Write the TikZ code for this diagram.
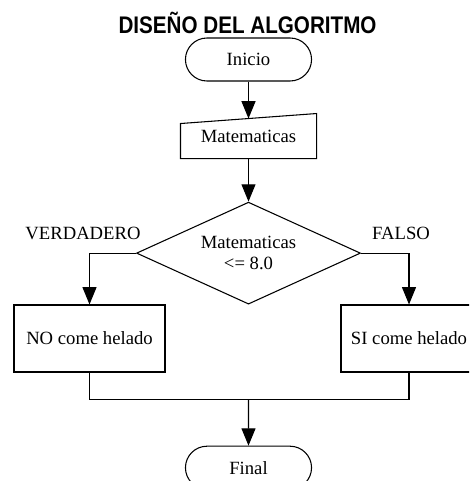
\documentclass[tikz,border=0pt]{standalone}
\usepackage{fontspec}
\setmainfont{Liberation Serif}
\newfontfamily\titlefont{Liberation Sans}
\usetikzlibrary{shapes,arrows.meta,positioning,calc}

\begin{document}
\begin{tikzpicture}[x=0.75pt, y=-0.75pt, >={Triangle[length=13pt,width=10.5pt]}, line width=0.8pt,
    term/.style={draw, rounded rectangle, minimum width=101.25pt, minimum height=32.25pt, font=\fontsize{14}{16}\selectfont},
    box/.style={draw, rectangle, minimum height=50.25pt, font=\fontsize{14}{16}\selectfont},
    cond/.style={draw, diamond, aspect=2.2, minimum width=168pt, minimum height=76.5pt, inner sep=0pt, align=center, font=\fontsize{14}{16}\selectfont},
    lbl/.style={font=\fontsize{14}{16}\selectfont}]
    \clip (0,0) rectangle (469,481);
    \node[font=\titlefont\bfseries\fontsize{18}{20}\selectfont] (T) at (247.5,22.5) {\scalebox{0.86}[1]{DISEÑO DEL ALGORITMO}};

    \node[term] (A) at (248.5,59.5) {Inicio};
    \node[minimum width=101.25pt, minimum height=33pt, below=24pt of A, font=\fontsize{14}{16}\selectfont] (B) {Matematicas};
    \draw (B.south west) -- (B.south east) -- (B.north east) -- ([yshift=-7.5pt]B.north west) -- cycle;
    \node[cond, below=32.25pt of B] (C) {Matematicas\\\textless= 8.0};

    \node[box, minimum width=113.25pt] (D) at (89.5,338.5) {NO come helado};
    \node[box, minimum width=102pt] (E) at (409,338.5) {SI come helado};
    \node[term, below=105.75pt of C] (F) {Final};
    \coordinate (J) at ([yshift=-20.25pt]D.south -| F.north);

    \node[lbl] (V) at (83,233) {VERDADERO};
    \node[lbl] (W) at (401,233) {FALSO};

    \draw[->] (A.south) -- ([yshift=-3.75pt]B.north);
    \draw[->] (B) -- (C);
    \draw[->] (C.west) -| (D.north);
    \draw[->] (C.east) -| (E.north);
    \draw (D.south) |- (J);
    \draw (E.south) |- (J);
    \draw[->] (J) -- (F);
\end{tikzpicture}
\end{document}
